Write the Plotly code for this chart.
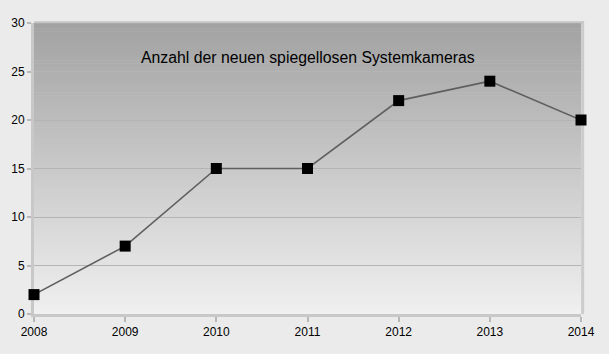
import plotly.graph_objects as go

years = [2008, 2009, 2010, 2011, 2012, 2013, 2014]
counts = [2, 7, 15, 15, 22, 24, 20]
y_ticks = [0, 5, 10, 15, 20, 25, 30]
title_text = "Anzahl der neuen spiegellosen Systemkameras"

fig = go.Figure()
fig.add_trace(go.Scatter(
    x=years, y=counts, mode="lines+markers",
    line=dict(color="#5f5f5f", width=1.6),
    marker=dict(symbol="square", size=11, color="#000000"),
    cliponaxis=False, hoverinfo="skip", showlegend=False,
))

# vertical gradient background bands (top dark -> bottom light)
shapes = []
n = 100
top = (0xa2, 0xa2, 0xa2)
bot = (0xf0, 0xf0, 0xf0)
for i in range(n):
    t = (i + 0.5) / n
    c = tuple(int(round(bot[k] + (top[k] - bot[k]) * t)) for k in range(3))
    shapes.append(dict(type="rect", xref="x domain", yref="y domain",
                       x0=0, x1=1, y0=i / n, y1=(i + 1) / n + 0.002,
                       fillcolor="rgb(%d,%d,%d)" % c, line=dict(width=0), layer="below"))
# right and top borders
shapes.append(dict(type="line", xref="x domain", yref="y domain", x0=1.003, x1=1.003, y0=0, y1=1.005,
                   line=dict(color="#cccccc", width=3), layer="below"))
shapes.append(dict(type="line", xref="x domain", yref="y domain", x0=0, x1=1.005, y0=1.003, y1=1.003,
                   line=dict(color="#c4c4c4", width=2), layer="below"))

fig.update_layout(
    width=609, height=354,
    margin=dict(l=34, r=28, t=23, b=40),
    paper_bgcolor="#ebebeb", plot_bgcolor="rgba(0,0,0,0)",
    font=dict(family="Liberation Sans, Arial, sans-serif", size=12, color="#000000"),
    shapes=shapes,
    annotations=[dict(text=title_text, xref="paper", yref="paper", x=0.5, y=0.882,
                      showarrow=False, font=dict(size=15.8, color="#000000"),
                      xanchor="center", yanchor="middle")],
    xaxis=dict(range=[2008, 2014], tickvals=years, ticktext=[str(y) for y in years],
               showgrid=False, zeroline=False, showline=True, linecolor="#c8c8c8", linewidth=3,
               ticks="outside", ticklen=5, tickcolor="#b8b8b8", tickwidth=2, layer="below traces"),
    yaxis=dict(range=[0, 30], tickvals=y_ticks, showgrid=True, gridcolor="#b4b4b4", gridwidth=1,
               zeroline=False, showline=True, linecolor="#c8c8c8", linewidth=3,
               ticks="outside", ticklen=4, tickcolor="#b8b8b8", tickwidth=2, layer="below traces"),
)

fig.write_html("out.html")
